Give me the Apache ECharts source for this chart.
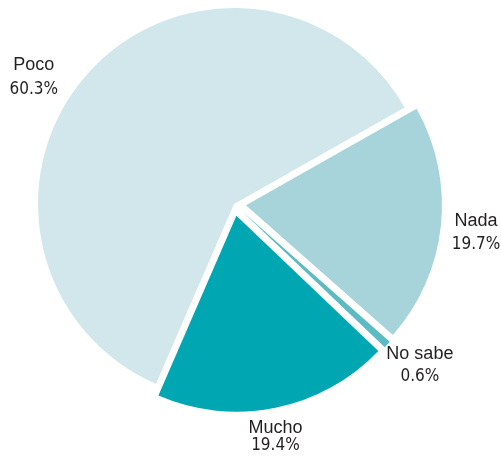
<!DOCTYPE html>
<html>
<head>
<meta charset="utf-8">
<script src="https://cdn.jsdelivr.net/npm/echarts@6/dist/echarts.min.js"></script>
<style>
  html, body { margin: 0; padding: 0; background: #ffffff; }
  #chart { width: 501px; height: 461px; }
</style>
</head>
<body>
<div id="chart"></div>
<script>
// Data (survey answers, percent)
const categories = ['Mucho', 'Poco', 'Nada', 'No sabe'];
const values = [19.4, 60.3, 19.7, 0.6];
const exploded = [true, false, true, true];
const colors = ['#00a6b2', '#d1e7eb', '#a6d4da', '#5cbac3'];

// Layout constants
const CX = 234, CY = 204, R = 196;
const START_ANGLE = 316.4;
const EXPLODE = 12;
// label placement relative to each slice's mid-angle: [angle shift (deg), distance from centre, line height]
const LABEL_PLACE = {
  'Mucho': [-1.4, 236.7, 18],
  'Poco': [9.6, 237, 24],
  'Nada': [-0.8, 243.7, 24],
  'No sabe': [1.6, 246, 22]
};

const total = values.reduce((a, b) => a + b, 0);
const startAngles = [], midAngles = [];
(function () {
  let acc = START_ANGLE;
  values.forEach(v => {
    const span = v / total * 360;
    startAngles.push(acc);
    midAngles.push(acc - span / 2);
    acc -= span;
  });
})();

const TEXT = '#231f20';

const series = categories.map((c, i) => {
  const rad = midAngles[i] * Math.PI / 180;
  const off = exploded[i] ? EXPLODE : 0;
  const cx = CX + off * Math.cos(rad);
  const cy = CY - off * Math.sin(rad);
  const place = LABEL_PLACE[c];
  return {
    type: 'pie',
    name: c,
    center: [cx, cy],
    radius: [0, R],
    startAngle: startAngles[i],
    clockwise: true,
    avoidLabelOverlap: false,
    emphasis: { disabled: true },
    labelLine: { show: false },
    label: {
      show: true,
      position: 'outside',
      formatter: () => '{n|' + c + '}\n{v|' + values[i].toFixed(1) + '%}',
      rich: {
        n: { fontFamily: 'Liberation Sans', fontSize: 18, color: TEXT, lineHeight: place[2], align: 'center' },
        v: { fontFamily: '"DejaVu Sans Condensed", "Liberation Sans"', fontSize: 17, color: TEXT, lineHeight: place[2], align: 'center' }
      }
    },
    labelLayout: function () {
      const a = (midAngles[i] + place[0]) * Math.PI / 180;
      return {
        x: CX + place[1] * Math.cos(a),
        y: CY - place[1] * Math.sin(a),
        align: 'center',
        verticalAlign: 'middle'
      };
    },
    data: [
      { name: c, value: values[i], itemStyle: { color: colors[i] } },
      { name: '', value: total - values[i], itemStyle: { color: 'rgba(0,0,0,0)' }, label: { show: false }, silent: true }
    ]
  };
});

const chart = echarts.init(document.getElementById('chart'), null, { renderer: 'canvas' });
chart.setOption({
  animation: false,
  backgroundColor: '#ffffff',
  series: series
});
</script>
</body>
</html>
